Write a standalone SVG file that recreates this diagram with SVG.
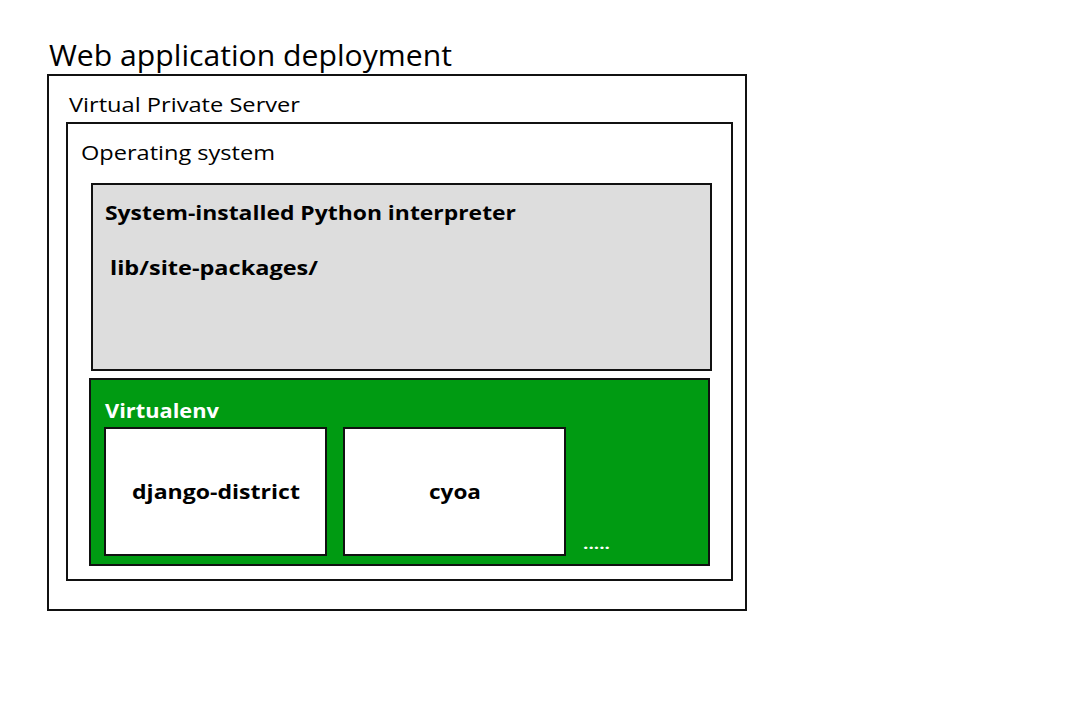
<svg xmlns="http://www.w3.org/2000/svg" width="1084" height="705" viewBox="0 0 1084 705">
<style>
.box{stroke:#111;stroke-width:2;}
.t{font-family:"Open Sans","Liberation Sans",sans-serif;fill:#000;}
.b{font-weight:bold;}
.w{fill:#fff;}
</style>
<rect width="1084" height="705" fill="#fff"/>
<text class="t" x="49" y="66" font-size="29" textLength="403" lengthAdjust="spacingAndGlyphs">Web application deployment</text>
<g id="vps">
<rect class="box" x="48" y="75" width="698" height="535" fill="#fff"/>
<text class="t" x="69" y="112" font-size="20" textLength="231" lengthAdjust="spacingAndGlyphs">Virtual Private Server</text>
</g>
<g id="os">
<rect class="box" x="67" y="123" width="665" height="457" fill="#fff"/>
<text class="t" x="81" y="160" font-size="20" textLength="194" lengthAdjust="spacingAndGlyphs">Operating system</text>
</g>
<g id="python">
<rect class="box" x="92" y="184" width="619" height="186" fill="#dddddd"/>
<text class="t b" x="105" y="220" font-size="19" textLength="411" lengthAdjust="spacingAndGlyphs">System-installed Python interpreter</text>
<text class="t b" x="110" y="275" font-size="19" textLength="208" lengthAdjust="spacingAndGlyphs">lib/site-packages/</text>
</g>
<g id="virtualenv">
<rect class="box" x="90" y="379" width="619" height="186" fill="#009b12"/>
<text class="t b w" x="105" y="418" font-size="19" textLength="114" lengthAdjust="spacingAndGlyphs">Virtualenv</text>
<text class="t b w" x="583" y="549" font-size="14" textLength="27" lengthAdjust="spacingAndGlyphs">.....</text>
</g>
<g id="django-district">
<rect class="box" x="105" y="428" width="221" height="127" fill="#fff"/>
<text class="t b" x="216" y="499" font-size="19" text-anchor="middle" textLength="168" lengthAdjust="spacingAndGlyphs">django-district</text>
</g>
<g id="cyoa">
<rect class="box" x="344" y="428" width="221" height="127" fill="#fff"/>
<text class="t b" x="455" y="499" font-size="19" text-anchor="middle" textLength="52" lengthAdjust="spacingAndGlyphs">cyoa</text>
</g>
<g id="connectors"></g>
</svg>
